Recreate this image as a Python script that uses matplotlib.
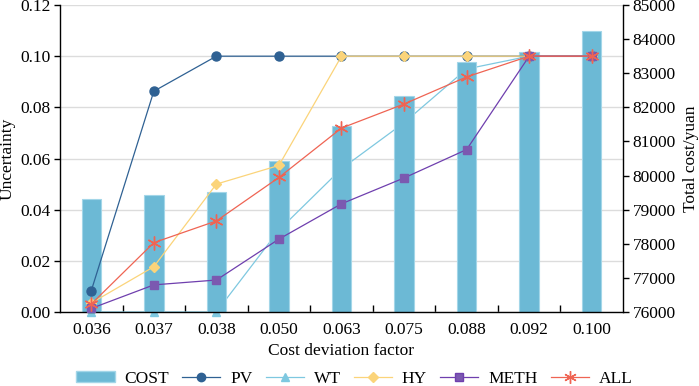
import matplotlib.pyplot as plt
import numpy as np
from matplotlib.patches import Patch
from matplotlib.lines import Line2D

plt.rcParams["font.family"] = ["Liberation Serif", "DejaVu Serif"]
plt.rcParams["font.size"] = 12.5

factors = ["0.036", "0.037", "0.038", "0.050", "0.063", "0.075", "0.088", "0.092", "0.100"]
cost = [79300, 79440, 79520, 80440, 81450, 82330, 83330, 83630, 84250]
pv = [0.0083, 0.0863, 0.100, 0.100, 0.100, 0.100, 0.100, 0.100, 0.100]
wt = [0.0, 0.0, 0.0, 0.032, 0.056, 0.074, 0.095, 0.100, 0.100]
hy = [0.0035, 0.0177, 0.050, 0.0573, 0.100, 0.100, 0.100, 0.100, 0.100]
meth = [0.0014, 0.0106, 0.0125, 0.0285, 0.0423, 0.0524, 0.0635, 0.100, 0.100]
all_ = [0.0031, 0.0271, 0.0356, 0.0526, 0.0719, 0.0813, 0.0919, 0.100, 0.100]

c_bar = "#6cb9d5"
c_pv = "#2f6193"
c_wt = "#7ec8e0"
c_hy = "#fbd47a"
c_meth = "#6f3fae"
c_all = "#ef6453"

x = np.arange(len(factors))

fig = plt.figure(figsize=(6.99, 3.86), dpi=100)
ax = fig.add_axes([0.0858, 0.1917, 0.8055, 0.7953])

# base axis: grid + WT line (sits behind the bars)
ax.set_ylim(0, 0.12)
ax.set_xlim(-0.5, len(factors) - 0.5)
ax.set_yticks(np.arange(0, 0.121, 0.02))
ax.yaxis.set_major_formatter(plt.FormatStrFormatter("%.2f"))
ax.grid(axis="y", color="#dcdcdc", lw=1.0)
ax.set_axisbelow(True)
ax.plot(x, wt, color=c_wt, lw=0.9, marker="^", ms=6, clip_on=False, zorder=3)
ax.set_ylabel("Uncertainty", fontsize=12.5, labelpad=3)
ax.set_xlabel("Cost deviation factor", fontsize=12.5, labelpad=4)
ax.set_xticks(x)
ax.set_xticklabels(factors)
ax.tick_params(axis="x", length=0, pad=7)
ax.set_xticks(np.arange(0.5, len(factors) - 1, 1), minor=True)
ax.tick_params(axis="x", which="minor", direction="in", length=5, width=1)
ax.tick_params(axis="y", direction="out", length=4, width=1, pad=3)
for s in ax.spines.values():
    s.set_visible(False)

# cost bars on the right axis
ax_cost = ax.twinx()
ax_cost.bar(x, cost, width=0.31, color=c_bar, edgecolor="#a3d6e8", lw=0.8)
ax_cost.set_ylim(76000, 85000)
ax_cost.set_yticks(np.arange(76000, 85001, 1000))
ax_cost.set_ylabel("Total cost/yuan", fontsize=12.5, labelpad=5)
ax_cost.tick_params(axis="y", direction="out", length=4, width=1, pad=3)
ax_cost.spines["top"].set_visible(False)
for s in ["left", "bottom", "right"]:
    ax_cost.spines[s].set_linewidth(1.0)

# other uncertainty lines on top of the bars
ax_top = ax.twinx()
ax_top.set_ylim(0, 0.12)
ax_top.set_yticks([])
for s in ax_top.spines.values():
    s.set_visible(False)
ax_top.plot(x, pv, color=c_pv, lw=0.9, marker="o", ms=6.5, clip_on=False)
ax_top.plot(x, hy, color=c_hy, lw=0.9, marker="D", ms=5.5, clip_on=False)
ax_top.plot(x, meth, color=c_meth, lw=0.9, marker="s", ms=6, mfc="#7b59b0", mec="#7b59b0", clip_on=False)
ax_top.plot(x, all_, color=c_all, lw=0.9, marker=(6, 2, 0), ms=10, mew=1.0, clip_on=False)

handles = [
    Patch(facecolor=c_bar, edgecolor="#a3d6e8"),
    Line2D([], [], color=c_pv, lw=0.9, marker="o", ms=6),
    Line2D([], [], color=c_wt, lw=0.9, marker="^", ms=6),
    Line2D([], [], color=c_hy, lw=0.9, marker="D", ms=5),
    Line2D([], [], color=c_meth, lw=0.9, marker="s", ms=6, mfc="#7b59b0"),
    Line2D([], [], color=c_all, lw=0.9, marker=(6, 2, 0), ms=9),
]
labels = ["COST", "PV", "WT", "HY", "METH", "ALL"]
fig.legend(handles, labels, loc="center", bbox_to_anchor=(0.507, 0.018), ncol=6,
           frameon=False, fontsize=12.5, handlelength=2.2, handleheight=0.6,
           columnspacing=0.75, handletextpad=0.57, borderpad=0)

fig.savefig("out.png", dpi=100)
